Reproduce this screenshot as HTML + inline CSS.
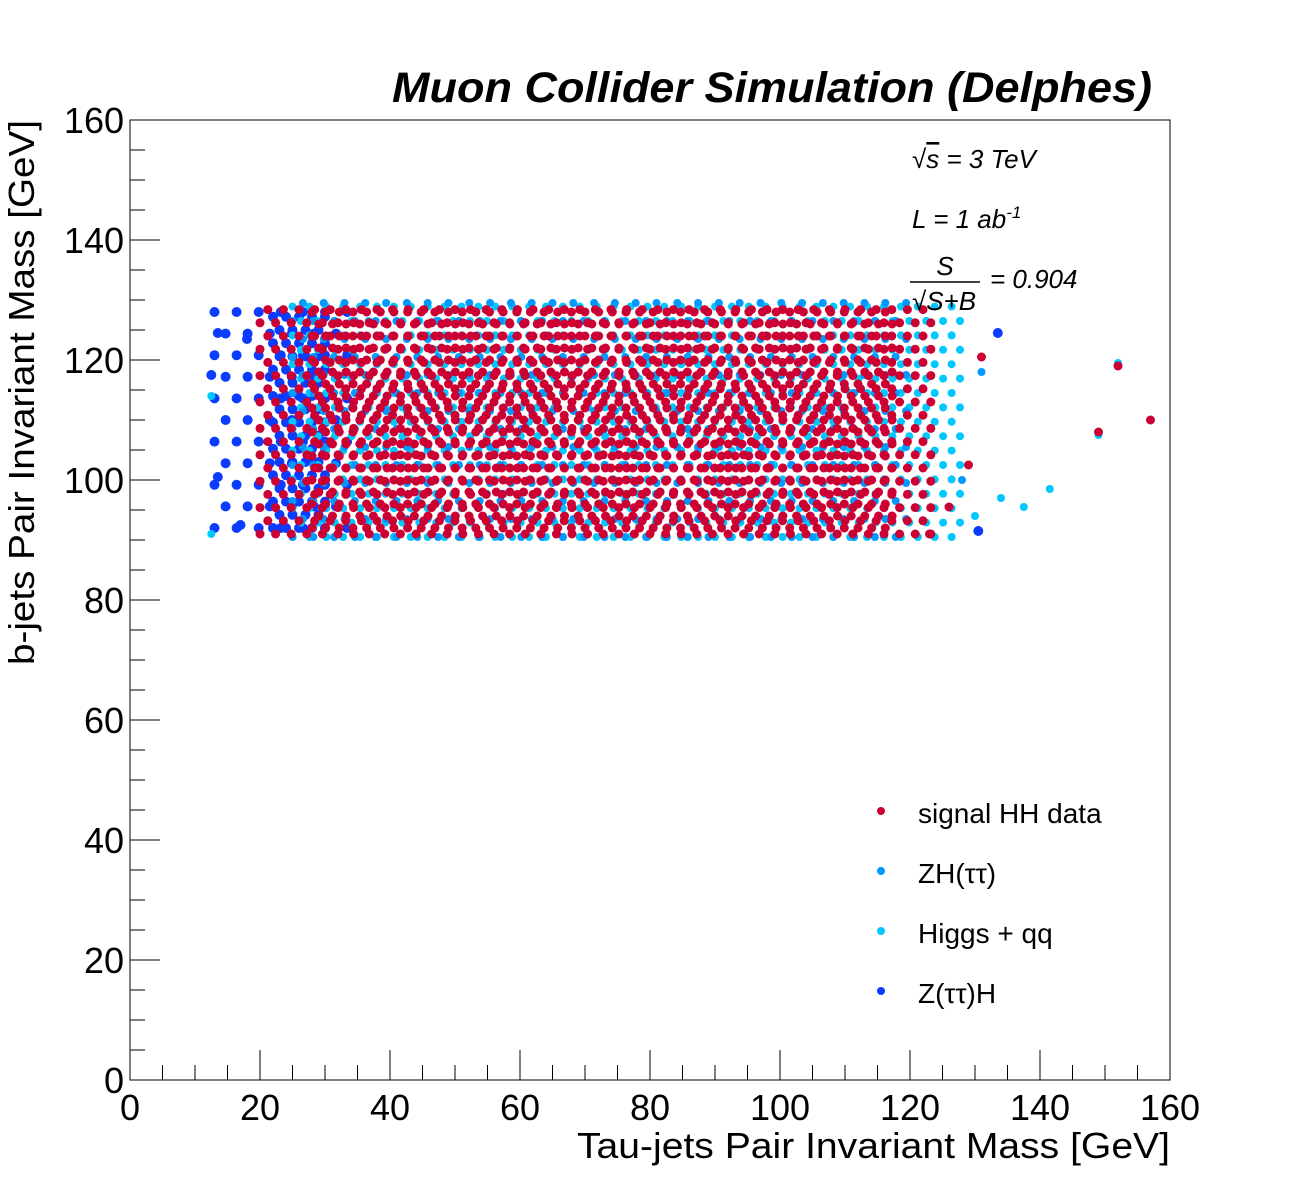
<!DOCTYPE html>
<html><head><meta charset="utf-8"><style>
body{margin:0;background:#fff}
svg{display:block;font-family:"Liberation Sans",sans-serif}
</style></head><body>
<svg id="chart" width="1300" height="1200" viewBox="0 0 1300 1200">
<rect x="0" y="0" width="1300" height="1200" fill="#fff"/>
<g id="marks"></g>
<rect x="130" y="120" width="1040" height="960" fill="none" stroke="#000" stroke-width="1"/>
<g id="axes"></g>
<text x="1152" y="102" text-anchor="end" font-size="43" font-weight="bold" font-style="italic" textLength="760" lengthAdjust="spacingAndGlyphs">Muon Collider Simulation (Delphes)</text>
<text x="1170" y="1158" text-anchor="end" font-size="36" textLength="593" lengthAdjust="spacingAndGlyphs">Tau-jets Pair Invariant Mass [GeV]</text>
<text transform="translate(34,120) rotate(-90)" text-anchor="end" font-size="36" textLength="545" lengthAdjust="spacingAndGlyphs">b-jets Pair Invariant Mass [GeV]</text>
<g font-size="26" font-style="italic">
<text x="912" y="168">√<tspan text-decoration="overline">s</tspan>  =  3 TeV</text>
<text x="912" y="228">L  =  1 ab<tspan font-size="17" dy="-10">-1</tspan></text>
<text x="945" y="275" text-anchor="middle">S</text>
<line x1="910" y1="282" x2="980" y2="282" stroke="#000" stroke-width="1.5"/>
<text x="912" y="310">√S+B</text>
<text x="990" y="288">=  0.904</text>
</g>
<g id="legend" font-size="28"></g>
</svg>
<script>
// Series definitions (regions in GeV: [xmin,xmax,ymin,ymax,stepX,stepY])
const seriesNames = ["Z(ττ)H", "Higgs + qq", "ZH(ττ)", "signal HH data"];
const seriesColors = ["#0a3cff", "#00c8ff", "#0099ff", "#cc0033"];
const zttRegions = [[13,35,92,128,3.4,3.6],[22,30,92,128,2.0,2.2]];
const hqqRegions = [[25,128,90.5,129.5,2.6,2.4]];
const zhRegions = [[25,120,90.5,129.5,3.2,3.0]];
const sigRegions = [[20,124,91,129,2.4,2.2],[28,118,92,128,2.1,2.0]];
const zttOutliers = [[133.5,124.5],[130.5,91.5],[12.5,117.5],[13.5,124.5],[13.5,100.5],[17,92.5],[18,123.5]];
const hqqOutliers = [[152,119.5],[149,107.5],[141.5,98.5],[137.5,95.5],[134,97],[12.5,91],[12.5,114],[130,94]];
const zhOutliers = [[131,118],[128,100]];
const sigOutliers = [[152,119],[157,110],[149,108],[131,120.5],[129,102.5],[126,95.5],[123,91]];
const xTicks = [0,20,40,60,80,100,120,140,160];
const yTicks = [0,20,40,60,80,100,120,140,160];

const NS = "http://www.w3.org/2000/svg";
const X = v => 130 + v * 6.5;
const Y = v => 1080 - v * 6;
const marks = document.getElementById("marks");
const axes = document.getElementById("axes");

function dot(x, y, r, c, name) {
  const e = document.createElementNS(NS, "circle");
  e.setAttribute("cx", X(x).toFixed(1));
  e.setAttribute("cy", Y(y).toFixed(1));
  e.setAttribute("r", r);
  e.setAttribute("fill", c);
  
  
  marks.appendChild(e);
}
function drawSeries(regions, outliers, color, r, name) {
  regions.forEach(g => {
    let row = 0;
    for (let y = g[2]; y <= g[3]; y += g[5], row++) {
      const off = (row % 2) * g[4] / 2;
      for (let x = g[0] + off; x <= g[1]; x += g[4]) dot(x, y, r, color, name);
    }
  });
  outliers.forEach(p => dot(p[0], p[1], r, color, name));
}
drawSeries(zttRegions, zttOutliers, seriesColors[0], 5, "ztth-point");
drawSeries(hqqRegions, hqqOutliers, seriesColors[1], 4, "higgs-qq-point");
drawSeries(zhRegions, zhOutliers, seriesColors[2], 4, "zhtt-point");
drawSeries(sigRegions, sigOutliers, seriesColors[3], 4.5, "signal-point");

function line(x1, y1, x2, y2, name) {
  const e = document.createElementNS(NS, "line");
  e.setAttribute("x1", x1); e.setAttribute("y1", y1);
  e.setAttribute("x2", x2); e.setAttribute("y2", y2);
  e.setAttribute("stroke", "#000");
  
  
  axes.appendChild(e);
}
function label(x, y, t, anchor, name) {
  const e = document.createElementNS(NS, "text");
  e.setAttribute("x", x); e.setAttribute("y", y);
  e.setAttribute("text-anchor", anchor);
  e.setAttribute("font-size", "36");
  e.textContent = t;
  
  
  axes.appendChild(e);
}
for (let v = 0; v <= 160; v += 5) {
  const major = v % 20 === 0;
  line(X(v), 1080, X(v), 1080 - (major ? 30 : 15), "x-tick");
  line(130, Y(v), 130 + (major ? 30 : 15), Y(v), "y-tick");
}
xTicks.forEach(v => label(X(v), 1120, String(v), "middle", "x-tick-label"));
yTicks.forEach(v => label(124, Y(v) + 13, String(v), "end", "y-tick-label"));

const legend = document.getElementById("legend");
const legendOrder = [3, 2, 1, 0];
legendOrder.forEach((si, i) => {
  const y = 813 + i * 60;
  const c = document.createElementNS(NS, "circle");
  c.setAttribute("cx", 881); c.setAttribute("cy", y - 2); c.setAttribute("r", 4);
  c.setAttribute("fill", seriesColors[si]);
  
  
  legend.appendChild(c);
  const t = document.createElementNS(NS, "text");
  t.setAttribute("x", 918); t.setAttribute("y", y + 10);
  t.textContent = seriesNames[si];
  
  
  legend.appendChild(t);
});
</script>
</body></html>
